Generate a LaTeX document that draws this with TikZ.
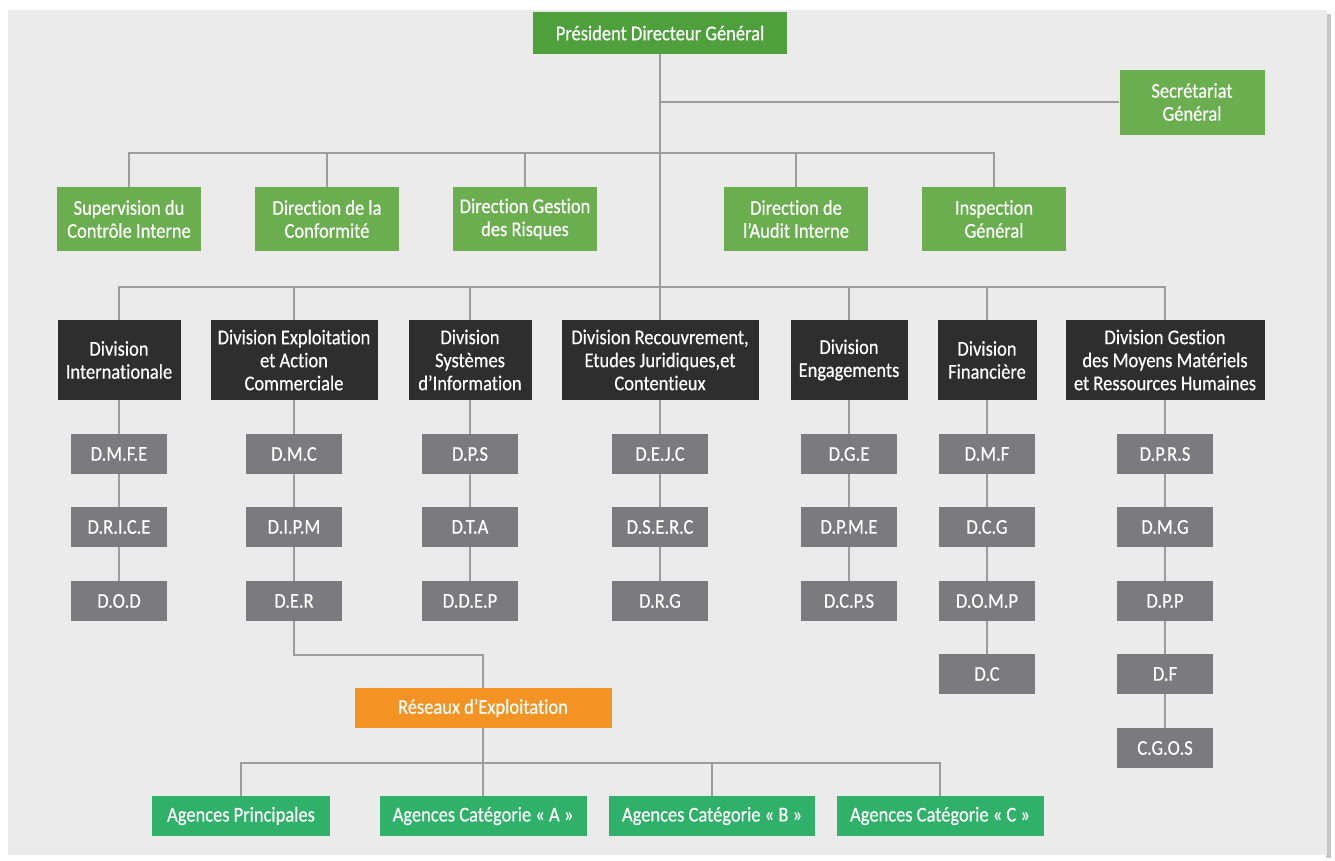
\documentclass[tikz,border=0pt]{standalone}
\usepackage{fontspec}
\setmainfont{Carlito}[FakeStretch=0.88, FakeBold=0.4, Ligatures=NoCommon]
\definecolor{panel}{HTML}{EBEBEB}
\definecolor{pdggreen}{HTML}{4EA03C}
\definecolor{dirgreen}{HTML}{6AAE50}
\definecolor{agegreen}{HTML}{30B169}
\definecolor{divdark}{HTML}{2E2E2E}
\definecolor{subgray}{HTML}{7B7B7D}
\definecolor{resorange}{HTML}{F39323}
\definecolor{linegray}{HTML}{9C9C9C}
\begin{document}
\begin{tikzpicture}[x=1pt,y=-1pt]
\tikzstyle{box} = [rectangle, inner sep=0pt, align=center, text=white, font=\fontsize{21}{23}\selectfont]
\tikzstyle{pdgbox} = [box, fill=pdggreen, minimum width=254pt, minimum height=42pt]
\tikzstyle{dirbox} = [box, fill=dirgreen, minimum width=144pt, minimum height=64pt]
\tikzstyle{divbox} = [box, fill=divdark, minimum height=80pt]
\tikzstyle{subbox} = [box, fill=subgray, minimum width=96pt, minimum height=40pt]
\tikzstyle{resbox} = [box, fill=resorange, minimum width=257pt, minimum height=40pt]
\tikzstyle{agebox} = [box, fill=agegreen, minimum height=40pt]
\tikzstyle{link} = [draw=linegray, line width=1.6pt]
\fill[white] (0,0) rectangle (1335,860);
\fill[gray!45] (1326,14) rectangle (1331,858);
\fill[panel] (8,10) rectangle (1327,855);
% direction
\node[pdgbox] (pdg) at (660,33) {Président Directeur Général};
\node[dirbox, minimum width=145pt, minimum height=65pt] (sg) at (1192,102) {Secrétariat\\Général};
\node[dirbox] (sup) at (129,219) {Supervision du\\Contrôle Interne};
\node[dirbox] (conf) at (327,219) {Direction de la\\Conformité};
\node[dirbox] (risq) at (525,219) {Direction Gestion\\des Risques};
\node[dirbox] (audit) at (796,219) {Direction de\\l’Audit Interne};
\node[dirbox] (insp) at (994,219) {Inspection\\Général};
% divisions
\node[divbox, minimum width=123pt] (dint) at (119,360) {Division\\Internationale};
\node[divbox, minimum width=167pt] (dexp) at (294,360) {Division Exploitation\\et Action\\Commerciale};
\node[divbox, minimum width=123pt] (dsys) at (470,360) {Division\\Systèmes\\d’Information};
\node[divbox, minimum width=197pt] (drec) at (660,360) {Division Recouvrement,\\Etudes Juridiques,et\\Contentieux};
\node[divbox, minimum width=117pt] (deng) at (849,360) {Division\\Engagements};
\node[divbox, minimum width=99pt] (dfin) at (987,360) {Division\\Financière};
\node[divbox, minimum width=199pt] (dges) at (1165,360) {Division Gestion\\des Moyens Matériels\\et Ressources Humaines};
% directions des divisions
\node[subbox] (dmfe) at (119,454) {D.M.F.E};
\node[subbox] (drice) at (119,527) {D.R.I.C.E};
\node[subbox] (dod) at (119,601) {D.O.D};
\node[subbox] (dmc) at (294,454) {D.M.C};
\node[subbox] (dipm) at (294,527) {D.I.P.M};
\node[subbox] (der) at (294,601) {D.E.R};
\node[subbox] (dps) at (470,454) {D.P.S};
\node[subbox] (dta) at (470,527) {D.T.A};
\node[subbox] (ddep) at (470,601) {D.D.E.P};
\node[subbox] (dejc) at (660,454) {D.E.J.C};
\node[subbox] (dserc) at (660,527) {D.S.E.R.C};
\node[subbox] (drg) at (660,601) {D.R.G};
\node[subbox] (dge) at (849,454) {D.G.E};
\node[subbox] (dpme) at (849,527) {D.P.M.E};
\node[subbox] (dcps) at (849,601) {D.C.P.S};
\node[subbox] (dmf) at (987,454) {D.M.F};
\node[subbox] (dcg) at (987,527) {D.C.G};
\node[subbox] (domp) at (987,601) {D.O.M.P};
\node[subbox] (dc) at (987,674) {D.C};
\node[subbox] (dprs) at (1165,454) {D.P.R.S};
\node[subbox] (dmg) at (1165,527) {D.M.G};
\node[subbox] (dpp) at (1165,601) {D.P.P};
\node[subbox] (df) at (1165,674) {D.F};
\node[subbox] (cgos) at (1165,748) {C.G.O.S};
% reseaux
\node[resbox] (res) at (483,708) {Réseaux d’Exploitation};
\node[agebox, minimum width=178pt] (ap) at (241,816) {Agences Principales};
\node[agebox, minimum width=207pt] (aa) at (483,816) {Agences Catégorie « A »};
\node[agebox, minimum width=206pt] (ab) at (712,816) {Agences Catégorie « B »};
\node[agebox, minimum width=207pt] (ac) at (940,816) {Agences Catégorie « C »};
\coordinate (bar1) at (660,153);
\coordinate (bar2) at (660,287);
\coordinate (bar3) at (483,763);
\draw[link] (pdg.south) -- (drec.north);
\draw[link] (pdg.south |- sg.west) -- (sg.west);
\foreach \n in {sup,conf,risq,audit,insp}
  \draw[link] (\n.north) |- (bar1);
\foreach \n in {dint,dexp,dsys,deng,dfin,dges}
  \draw[link] (\n.north) |- (bar2);
\foreach \a/\b in {dint/dmfe,dmfe/drice,drice/dod,dexp/dmc,dmc/dipm,dipm/der,
  dsys/dps,dps/dta,dta/ddep,drec/dejc,dejc/dserc,dserc/drg,deng/dge,dge/dpme,dpme/dcps,
  dfin/dmf,dmf/dcg,dcg/domp,domp/dc,dges/dprs,dprs/dmg,dmg/dpp,dpp/df,df/cgos}
  \draw[link] (\a.south) -- (\b.north);
\draw[link] (der.south) -- ++(0,34) -| (res.north);
\draw[link] (res.south) -- (bar3);
\foreach \n in {ap,aa,ab,ac}
  \draw[link] (\n.north) |- (bar3);
\end{tikzpicture}
\end{document}
